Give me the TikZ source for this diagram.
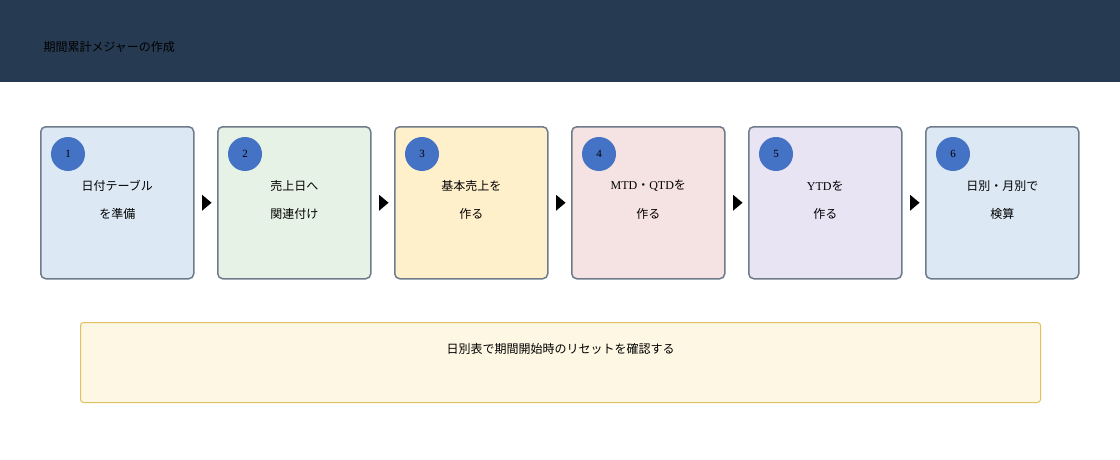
\documentclass[tikz,border=0pt]{standalone}
\usepackage{fontspec}
\setmainfont{Liberation Serif}
\newfontfamily\cjk{Noto Sans CJK JP}
\usetikzlibrary{positioning,shapes.geometric}
\definecolor{hdr}{HTML}{263A52}
\definecolor{edge}{HTML}{6E7B8B}
\definecolor{dot}{HTML}{4472C4}
\begin{document}
\begin{tikzpicture}[x=1pt,y=-1pt,
stage/.style={
  draw=edge,
  line width=1.5pt,
  rounded corners=5pt,
  minimum width=153pt,
  minimum height=152pt,
  anchor=north west
},
num/.style={
  circle,
  fill=dot,
  minimum size=34pt,
  inner sep=0pt,
  font=\fontsize{11}{11}\selectfont
},
txt/.style={
  font=\fontsize{12}{12}\selectfont,
  align=center
},
tri/.style={
  isosceles triangle,
  fill=black,
  inner sep=0pt,
  minimum width=16pt,
  minimum height=9pt,
  isosceles triangle apex angle=80
}
]
\useasboundingbox (0,0) rectangle (1120,460);
\fill[hdr] (0,0) rectangle (1120,82);
\node[anchor=west,font=\cjk\fontsize{12}{12}\selectfont] (title) at (40,47) {期間累計メジャーの作成};

\foreach \i/\x/\c/\la/\lb in {
  1/40/DCE9F5/{\cjk 日付テーブル}/{\cjk を準備},
  2/217/E6F2E6/{\cjk 売上日へ}/{\cjk 関連付け},
  3/394/FFF0CC/{\cjk 基本売上を}/{\cjk 作る},
  4/571/F5E2E2/{MTD{\cjk ・}QTD{\cjk を}}/{\cjk 作る},
  5/748/E8E4F4/{YTD{\cjk を}}/{\cjk 作る},
  6/925/DCE9F5/{\cjk 日別・月別で}/{\cjk 検算}}{
  \definecolor{boxfill}{HTML}{\c}
  \node[stage,fill=boxfill] (b\i) at (\x,126) {};
  \node[num] (n\i) at ([xshift=28pt,yshift=-28pt]b\i.north west) {\i};
  \node[txt] (t\i) at ([yshift=-60pt]b\i.north) {\la};
  \node[txt] (u\i) at ([yshift=-88pt]b\i.north) {\lb};
}
\foreach \i [count=\j from 2] in {1,...,5}
  \path (b\i.east) -- node[tri] (a\i) {} (b\j.west);

\node[draw={rgb,255:red,224;green,192;blue,96},fill={rgb,255:red,253;green,247;blue,228},
  line width=1pt,rounded corners=3pt,minimum width=960pt,minimum height=80pt,anchor=north west]
  (note) at (80,322) {};
\node[txt,font=\cjk\fontsize{12}{12}\selectfont] (notetxt) at ([yshift=-27pt]note.north) {日別表で期間開始時のリセットを確認する};
\end{tikzpicture}
\end{document}
